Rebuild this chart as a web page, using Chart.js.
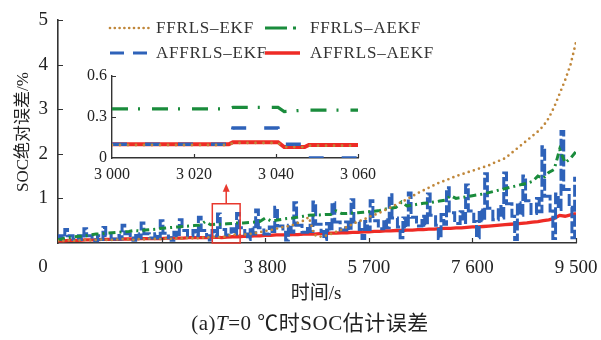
<!DOCTYPE html>
<html><head><meta charset="utf-8">
<script src="https://cdn.jsdelivr.net/npm/chart.js@4/dist/chart.umd.min.js"></script>
<style>
html,body{margin:0;padding:0;background:#fff;}
#wrap{position:relative;width:601px;height:340px;overflow:hidden;font-family:"Liberation Serif","Noto Sans CJK SC",serif;color:#222;}
#main{position:absolute;left:0;top:0;}
#inset{position:absolute;left:60px;top:60px;}
.t{position:absolute;white-space:nowrap;line-height:1;}
#ytitle{left:22px;top:132px;font-size:17px;transform:translate(-50%,-50%) rotate(-90deg);}
#xtitle{left:316px;top:292px;font-size:19px;transform:translate(-50%,-50%);}
#cap{left:310px;top:323px;font-size:21px;letter-spacing:0.5px;transform:translate(-50%,-50%);}
</style></head><body>
<div id="wrap">
<canvas id="main" width="601" height="340"></canvas>
<canvas id="inset" width="330" height="130"></canvas>
<div class="t" id="ytitle">SOC绝对误差/%</div>
<div class="t" id="xtitle">时间/s</div>
<div class="t" id="cap">(a)<i>T</i>=0 ℃时SOC估计误差</div>
</div>
<script>
// ---------- data ----------
const time = [0,100,200,300,400,500,600,700,800,900,
  1000,1100,1200,1300,1400,1500,1600,1700,1800,1900,
  2000,2100,2200,2300,2400,2500,2600,2700,2800,2900,
  3000,3100,3200,3300,3400,3500,3600,3700,3800,3900,
  4000,4100,4200,4300,4400,4500,4600,4700,4800,4900,
  5000,5100,5200,5300,5400,5500,5600,5700,5800,5900,
  6000,6100,6200,6300,6400,6500,6600,6700,6800,6900,
  7000,7100,7200,7300,7400,7500,7600,7700,7800,7900,
  8000,8100,8200,8300,8400,8500,8600,8700,8800,8900,
  9000,9100,9200,9300,9400,9500];
const ffrlsEkf = [0.05,0.05,0.06,0.05,0.06,0.07,0.06,0.07,0.08,0.07,
  0.07,0.08,0.09,0.08,0.07,0.09,0.08,0.10,0.09,0.09,
  0.10,0.09,0.11,0.10,0.12,0.10,0.11,0.13,0.12,0.14,
  0.12,0.15,0.20,0.17,0.19,0.20,0.22,0.24,0.27,0.29,
  0.32,0.35,0.37,0.40,0.45,0.50,0.58,0.18,0.14,0.16,
  0.20,0.25,0.30,0.36,0.42,0.48,0.52,0.58,0.63,0.68,
  0.74,0.80,0.86,0.92,0.98,1.05,1.12,1.18,1.24,1.30,
  1.36,1.40,1.45,1.50,1.54,1.58,1.62,1.66,1.70,1.74,
  1.80,1.85,1.90,2.00,2.10,2.20,2.30,2.40,2.50,2.62,
  2.80,3.05,3.35,3.65,4.00,4.50];
const ffrlsAekf = [0.07,0.10,0.12,0.14,0.15,0.16,0.18,0.20,0.21,0.22,
  0.23,0.24,0.25,0.26,0.28,0.27,0.29,0.30,0.31,0.33,
  0.34,0.35,0.36,0.37,0.38,0.39,0.40,0.48,0.41,0.42,
  0.42,0.43,0.44,0.45,0.45,0.46,0.47,0.48,0.56,0.50,
  0.51,0.53,0.55,0.56,0.58,0.60,0.62,0.63,0.63,0.64,
  0.64,0.72,0.66,0.66,0.67,0.68,0.69,0.70,0.71,0.73,
  0.76,0.78,0.80,0.92,0.83,0.85,0.87,0.89,0.90,0.92,
  0.94,0.96,1.06,1.00,1.02,1.04,1.06,1.08,1.10,1.13,
  1.16,1.19,1.22,1.25,1.28,1.31,1.34,1.38,1.50,1.45,
  1.58,1.65,2.10,1.80,1.90,2.05];
const affrlsAekf = [0.05,0.05,0.06,0.06,0.06,0.07,0.07,0.07,0.08,0.08,
  0.08,0.08,0.09,0.09,0.09,0.10,0.10,0.10,0.10,0.10,
  0.11,0.11,0.11,0.11,0.12,0.12,0.12,0.12,0.12,0.13,
  0.12,0.13,0.14,0.14,0.15,0.15,0.16,0.16,0.17,0.17,
  0.18,0.18,0.18,0.19,0.19,0.20,0.20,0.20,0.21,0.21,
  0.22,0.22,0.23,0.23,0.24,0.24,0.25,0.25,0.26,0.26,
  0.27,0.27,0.28,0.28,0.29,0.29,0.30,0.30,0.31,0.31,
  0.32,0.33,0.33,0.34,0.34,0.35,0.36,0.36,0.37,0.38,
  0.39,0.40,0.41,0.42,0.43,0.44,0.45,0.47,0.48,0.50,
  0.52,0.55,0.62,0.60,0.63,0.66];
// AFFRLS-EKF is sampled more finely (every 50 s)
const timeFine = [0,50,100,150,200,250,300,350,400,450,
  500,550,600,650,700,750,800,850,900,950,
  1000,1050,1100,1150,1200,1250,1300,1350,1400,1450,
  1500,1550,1600,1650,1700,1750,1800,1850,1900,1950,
  2000,2050,2100,2150,2200,2250,2300,2350,2400,2450,
  2500,2550,2600,2650,2700,2750,2800,2850,2900,2950,
  3000,3050,3100,3150,3200,3250,3300,3350,3400,3450,
  3500,3550,3600,3650,3700,3750,3800,3850,3900,3950,
  4000,4050,4100,4150,4200,4250,4300,4350,4400,4450,
  4500,4550,4600,4650,4700,4750,4800,4850,4900,4950,
  5000,5050,5100,5150,5200,5250,5300,5350,5400,5450,
  5500,5550,5600,5650,5700,5750,5800,5850,5900,5950,
  6000,6050,6100,6150,6200,6250,6300,6350,6400,6450,
  6500,6550,6600,6650,6700,6750,6800,6850,6900,6950,
  7000,7050,7100,7150,7200,7250,7300,7350,7400,7450,
  7500,7550,7600,7650,7700,7750,7800,7850,7900,7950,
  8000,8050,8100,8150,8200,8250,8300,8350,8400,8450,
  8500,8550,8600,8650,8700,8750,8800,8850,8900,8950,
  9000,9050,9100,9150,9200,9250,9300,9350,9400,9450,
  9500];
const affrlsEkf = [0.12,0.16,0.08,
  0.30,0.16,0.16,0.08,0.08,0.16,0.08,
  0.32,0.16,0.16,0.08,0.05,0.16,0.08,
  0.35,0.17,0.17,0.09,0.09,0.17,0.09,
  0.40,0.21,0.21,0.11,0.06,0.21,0.11,
  0.45,0.21,0.21,0.11,0.11,0.21,0.11,
  0.50,0.22,0.22,0.12,0.06,0.24,0.14,
  0.52,0.28,0.28,0.16,0.16,0.28,0.16,
  0.58,0.28,0.28,0.16,0.07,0.28,0.16,
  0.65,0.30,0.30,0.18,0.18,0.32,0.20,
  0.66,0.34,0.34,0.20,0.08,0.34,0.20,
  0.74,0.34,0.34,0.20,0.20,0.36,0.22,
  0.80,0.38,0.38,0.24,0.07,0.40,0.24,
  0.90,0.40,0.40,0.24,0.24,0.40,0.26,
  0.92,0.42,0.42,0.26,0.08,0.44,0.28,
  0.90,0.47,0.47,0.29,0.29,0.47,0.29,
  0.97,0.47,0.47,0.30,0.10,0.48,0.30,
  0.95,0.50,0.50,0.32,0.32,0.52,0.34,
  1.08,0.56,0.56,0.36,0.12,0.56,0.36,
  1.12,0.58,0.58,0.38,0.38,0.60,0.40,
  1.10,0.62,0.62,0.40,0.10,0.64,0.42,
  1.24,0.68,0.68,0.44,0.44,0.70,0.46,
  1.30,0.72,0.72,0.48,0.12,0.74,0.50,
  1.55,0.78,0.78,0.52,0.52,0.82,0.56,
  1.57,0.88,0.88,0.60,0.08,0.90,0.62,
  1.50,0.95,0.95,0.66,0.66,1.00,0.70,
  2.16,1.05,1.05,0.72,0.10,1.10,0.75,
  2.50,1.20,1.20,0.80,0.12,1.45];
const xTicks = [0,1900,3800,5700,7600,9500];
const yTicks = [0,1,2,3,4,5];

// inset (zoom of 3000-3060 s)
const insetTime = [3000,3028.5,3029.5,3040.5,3042,3047,3048,3060];
const insetFfrlsEkf   = [0.095,0.095,0.11,0.11,0.08,0.08,0.09,0.09];
const insetFfrlsAekf  = [0.36,0.36,0.37,0.37,0.34,0.35,0.35,0.35];
const insetAffrlsEkf  = [0.10,0.10,0.22,0.22,0.10,0.10,0.00,0.00];
const insetAffrlsAekf = [0.10,0.10,0.115,0.115,0.08,0.08,0.095,0.095];
const insetXTicks = [3000,3020,3040,3060];
const insetYTicks = [0,0.3,0.6];

const labels = ['FFRLS-EKF','FFRLS-AEKF','AFFRLS-EKF','AFFRLS-AEKF'];
// ---------------------------

const SERIF = "'Liberation Serif', 'Times New Roman', serif";
const pts = (xs, ys) => xs.map((t,i)=>({x:t,y:ys[i]}));
const fmt = v => { const s = String(v); return v >= 1000 ? s.slice(0,-3)+' '+s.slice(-3) : s; };
const noPad = s => { s.paddingLeft = 0; s.paddingRight = 0; s.paddingTop = 0; s.paddingBottom = 0; };

const innerTicks = {
  id:'innerTicks',
  afterDraw(chart, args, opts){
    const {ctx, chartArea:a, scales:{x,y}} = chart;
    const L = opts.len || 5;
    ctx.save(); ctx.strokeStyle='#333'; ctx.lineWidth=1.2;
    ctx.beginPath();
    x.ticks.forEach(t=>{ if(t.value===x.min) return; const px=Math.round(x.getPixelForValue(t.value))+0.5; ctx.moveTo(px,a.bottom); ctx.lineTo(px,a.bottom-L);});
    y.ticks.forEach(t=>{ if(t.value===y.min) return; const py=Math.round(y.getPixelForValue(t.value))+0.5; ctx.moveTo(a.left,py); ctx.lineTo(a.left+L,py);});
    ctx.stroke(); ctx.restore();
  }
};

const mainExtras = {
  id:'mainExtras',
  afterDraw(chart){
    const {ctx, chartArea:a, scales:{x,y}} = chart;
    ctx.save();
    ctx.fillStyle='#222'; ctx.font='19px '+SERIF; ctx.textAlign='center'; ctx.textBaseline='middle';
    ctx.fillText('0', x.getPixelForValue(0)-15, a.bottom+24);
    const x1=x.getPixelForValue(2830), x2=x.getPixelForValue(3340), yt=y.getPixelForValue(0.88), yb=y.getPixelForValue(0);
    ctx.strokeStyle='#e8382e'; ctx.fillStyle='#e8382e'; ctx.lineWidth=1.5;
    ctx.strokeRect(x1, yt, x2-x1, yb-yt);
    const cx=(x1+x2)/2;
    ctx.beginPath(); ctx.moveTo(cx, yt); ctx.lineTo(cx, yt-14); ctx.stroke();
    ctx.beginPath(); ctx.moveTo(cx, yt-20); ctx.lineTo(cx-3.5, yt-12); ctx.lineTo(cx+3.5, yt-12); ctx.closePath(); ctx.fill();
    const pos = [[110,152,156,28],[265,300,310,28],[110,152,156,53],[265,300,310,53]];
    chart.data.datasets.forEach((ds,i)=>{
      const [s,e,tx,ty]=pos[i];
      ctx.save();
      ctx.strokeStyle=ds.borderColor; ctx.lineWidth=ds.borderWidth;
      ctx.lineCap=ds.borderCapStyle||'butt';
      ctx.setLineDash(ds.legendDash || ds.borderDash || []);
      ctx.beginPath(); ctx.moveTo(s,ty); ctx.lineTo(e,ty); ctx.stroke();
      ctx.restore();
      ctx.save();
      ctx.fillStyle='#333'; ctx.font='17px '+SERIF; ctx.textAlign='left'; ctx.textBaseline='middle';
      if ('letterSpacing' in ctx) ctx.letterSpacing = '0.8px';
      ctx.fillText(labels[i].replace('-','–'), tx, ty+1);
      ctx.restore();
    });
    ctx.restore();
  }
};

const COL = {brown:'#c0873a', green:'#1a8c3c', blue:'#2e62b9', red:'#ee2b25'};

new Chart(document.getElementById('main'), {
  type:'line',
  data:{datasets:[
    {label:labels[0], data:pts(time,ffrlsEkf), borderColor:COL.brown, borderWidth:2.7, borderDash:[0,5.4], borderCapStyle:'round', legendDash:[0,4.8], order:0},
    {label:labels[1], data:pts(time,ffrlsAekf), borderColor:COL.green, borderWidth:3, borderDash:[7,4,2,4], legendDash:[22,6,3,6], order:1},
    {label:labels[2], data:pts(timeFine,affrlsEkf), borderColor:COL.blue, borderWidth:3, borderDash:[12,3], stepped:'middle', legendDash:[14,9], order:2},
    {label:labels[3], data:pts(time,affrlsAekf), borderColor:COL.red, borderWidth:3.3, order:3}
  ]},
  options:{
    responsive:false, animation:false, devicePixelRatio:1,
    elements:{point:{radius:0}, line:{tension:0, fill:false}},
    layout:{autoPadding:false, padding:{left:0, top:20, right:25, bottom:0}},
    plugins:{legend:{display:false}, tooltip:{enabled:false}, innerTicks:{len:5}},
    scales:{
      x:{type:'linear', min:0, max:9500,
        afterFit:s=>{s.height=97; noPad(s);},
        afterBuildTicks:s=>{s.ticks=xTicks.map(v=>({value:v}));},
        grid:{display:false, drawTicks:false},
        border:{display:true, color:'#333', width:1.6},
        ticks:{autoSkip:false, maxRotation:0, padding:14, color:'#222', font:{family:SERIF, size:19}, callback:v=>v===0?'':fmt(v)}},
      y:{min:0, max:5,
        afterFit:s=>{s.width=58; noPad(s);},
        afterBuildTicks:s=>{s.ticks=yTicks.map(v=>({value:v}));},
        grid:{display:false, drawTicks:false},
        border:{display:true, color:'#333', width:1.6},
        ticks:{padding:10, color:'#222', font:{family:SERIF, size:19}, callback:v=>v===0?'':String(v)}}
    }
  },
  plugins:[innerTicks, mainExtras]
});

new Chart(document.getElementById('inset'), {
  type:'line',
  data:{datasets:[
    {label:labels[0], data:pts(insetTime,insetFfrlsEkf), borderColor:COL.brown, borderWidth:2.8, borderDash:[0,8], borderCapStyle:'round', order:0},
    {label:labels[1], data:pts(insetTime,insetFfrlsAekf), borderColor:COL.green, borderWidth:3.2, borderDash:[16,10,2,12], order:1},
    {label:labels[2], data:pts(insetTime,insetAffrlsEkf), borderColor:COL.blue, borderWidth:3.5, borderDash:[15,18], order:2},
    {label:labels[3], data:pts(insetTime,insetAffrlsAekf), borderColor:COL.red, borderWidth:4, order:3}
  ]},
  options:{
    responsive:false, animation:false, devicePixelRatio:1,
    elements:{point:{radius:0}, line:{tension:0, fill:false}},
    layout:{autoPadding:false, padding:{left:0, top:16, right:32, bottom:0}},
    plugins:{legend:{display:false}, tooltip:{enabled:false}, innerTicks:{len:4}},
    scales:{
      x:{type:'linear', min:3000, max:3060,
        afterFit:s=>{s.height=32; noPad(s);},
        afterBuildTicks:s=>{s.ticks=insetXTicks.map(v=>({value:v}));},
        grid:{display:false, drawTicks:false},
        border:{display:true, color:'#333', width:1.4},
        ticks:{autoSkip:false, maxRotation:0, padding:7, color:'#222', font:{family:SERIF, size:16}, callback:v=>fmt(v)}},
      y:{min:0, max:0.6,
        afterFit:s=>{s.width=52; noPad(s);},
        afterBuildTicks:s=>{s.ticks=insetYTicks.map(v=>({value:v}));},
        grid:{display:false, drawTicks:false},
        border:{display:true, color:'#333', width:1.4},
        ticks:{padding:5, color:'#222', font:{family:SERIF, size:16}, callback:v=>String(v)}}
    }
  },
  plugins:[innerTicks]
});
</script>
</body></html>
